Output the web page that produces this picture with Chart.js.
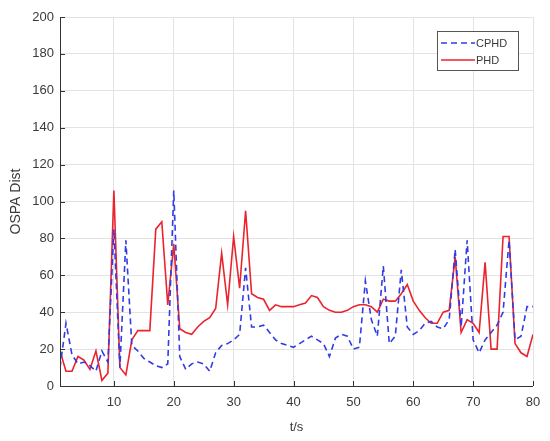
<!DOCTYPE html>
<html>
<head>
<meta charset="utf-8">
<script src="https://cdn.jsdelivr.net/npm/chart.js@4/dist/chart.umd.min.js"></script>
<style>
html,body{margin:0;padding:0;background:#fff;}
#wrap{width:550px;height:441px;}
</style>
</head>
<body>
<div id="wrap"><canvas id="c" width="550" height="441"></canvas></div>
<script>
const timeSteps = Array.from({length: 80}, (_, i) => i + 1);
const cphdValues = [10,34,17,12,13,11,8,19,13,85,
  10,79,22,19,15,13,11,10,12,106,
  16,9,12,13,12,8,18,22,23,25,
  28,64,32,32,33,29,25,23,22,21,
  23,25,27,25,23,16,26,28,27,20,
  21,57,36,27,65,23,27,63,32,28,
  30,34,35,32,31,36,74,32,79,25,
  18,25,29,33,40,79,25,27,43,43];
const phdValues = [19,8,8,16,14,9,19,3,7,106,
  10,6,25,30,30,30,85,89,44,77,
  31,29,28,32,35,37,42,72,44,81,
  53,95,50,48,47,41,44,43,43,43,
  44,45,49,48,43,41,40,40,41,43,
  44,44,43,40,47,46,46,50,55,46,
  41,37,34,34,40,41,70,29,36,34,
  29,67,20,20,81,81,23,18,16,28];
const xTickLabels = [10,20,30,40,50,60,70,80];
const yTickLabels = [0,20,40,60,80,100,120,140,160,180,200];
const seriesNames = ['CPHD','PHD'];

const FONT = 'Liberation Sans, Arial, sans-serif';
const blue = 'rgb(50,60,228)';
const red = 'rgb(235,35,45)';
const txt = '#3a3a3a';

const legendPlugin = {
  id: 'boxLegend',
  afterDraw(chart) {
    const ctx = chart.ctx;
    const x = 437, y = 31, w = 81, h = 39;
    ctx.save();
    ctx.fillStyle = '#fff';
    ctx.fillRect(x, y, w, h);
    ctx.strokeStyle = '#555';
    ctx.lineWidth = 1;
    ctx.strokeRect(x + 0.5, y + 0.5, w, h);
    const items = [
      {label: seriesNames[0], color: blue, dash: [6,4], yy: y + 12},
      {label: seriesNames[1], color: red, dash: [], yy: y + 29}
    ];
    items.forEach(it => {
      ctx.beginPath();
      ctx.setLineDash(it.dash);
      ctx.strokeStyle = it.color;
      ctx.lineWidth = 1.5;
      ctx.moveTo(441, it.yy);
      ctx.lineTo(475, it.yy);
      ctx.stroke();
      ctx.setLineDash([]);
      ctx.fillStyle = txt;
      ctx.font = '11px ' + FONT;
      ctx.textBaseline = 'middle';
      ctx.textAlign = 'left';
      ctx.fillText(it.label, 476, it.yy + 1);
    });
    ctx.restore();
  }
};

const axisLinePlugin = {
  id: 'axisLines',
  afterDatasetsDraw(chart) {
    const ctx = chart.ctx, a = chart.chartArea;
    const xs = chart.scales.x, ys = chart.scales.y;
    ctx.save();
    ctx.strokeStyle = '#333';
    ctx.lineWidth = 1;
    ctx.beginPath();
    ctx.moveTo(a.left + 0.5, a.top);
    ctx.lineTo(a.left + 0.5, a.bottom + 0.5);
    ctx.lineTo(a.right, a.bottom + 0.5);
    yTickLabels.forEach(v => {
      const py = Math.round(ys.getPixelForValue(v)) + 0.5;
      ctx.moveTo(a.left, py); ctx.lineTo(a.left + 5, py);
    });
    xTickLabels.forEach(v => {
      const px = Math.round(xs.getPixelForValue(v)) + 0.5;
      ctx.moveTo(px, a.bottom); ctx.lineTo(px, a.bottom - 5);
    });
    ctx.stroke();
    ctx.restore();
  }
};

new Chart(document.getElementById('c'), {
  type: 'line',
  data: {
    datasets: [
      {
        label: seriesNames[0],
        data: timeSteps.map((t, i) => ({x: t, y: cphdValues[i]})),
        borderColor: blue,
        borderWidth: 1.6,
        borderDash: [6, 4],
        pointRadius: 0,
        tension: 0,
        fill: false
      },
      {
        label: seriesNames[1],
        data: timeSteps.map((t, i) => ({x: t, y: phdValues[i]})),
        borderColor: red,
        borderWidth: 1.6,
        pointRadius: 0,
        tension: 0,
        fill: false
      }
    ]
  },
  options: {
    responsive: false,
    animation: false,
    devicePixelRatio: 1,
    layout: {padding: {left: 0, top: 17, right: 17, bottom: 0}},
    plugins: {legend: {display: false}, tooltip: {enabled: false}},
    scales: {
      x: {
        type: 'linear',
        min: 1,
        max: 80,
        afterBuildTicks: s => { s.ticks = xTickLabels.map(v => ({value: v})); },
        afterFit: s => { s.height = 55; },
        grid: {color: '#e3e3e3', drawTicks: false, lineWidth: 1},
        border: {display: false},
        ticks: {color: txt, font: {family: FONT, size: 13}, padding: 9, maxRotation: 0},
        title: {display: true, text: 't/s', color: txt, font: {family: FONT, size: 13}, padding: {top: 0, bottom: 6}}
      },
      y: {
        min: 0,
        max: 200,
        afterBuildTicks: s => { s.ticks = yTickLabels.map(v => ({value: v})); },
        afterFit: s => { s.width = 60; },
        grid: {color: '#e3e3e3', drawTicks: false, lineWidth: 1},
        border: {display: false},
        ticks: {color: txt, font: {family: FONT, size: 13}, padding: 6},
        title: {display: true, text: 'OSPA Dist', color: txt, font: {family: FONT, size: 14}, padding: {top: 8, bottom: 2}}
      }
    }
  },
  plugins: [axisLinePlugin, legendPlugin]
});
</script>
</body>
</html>
